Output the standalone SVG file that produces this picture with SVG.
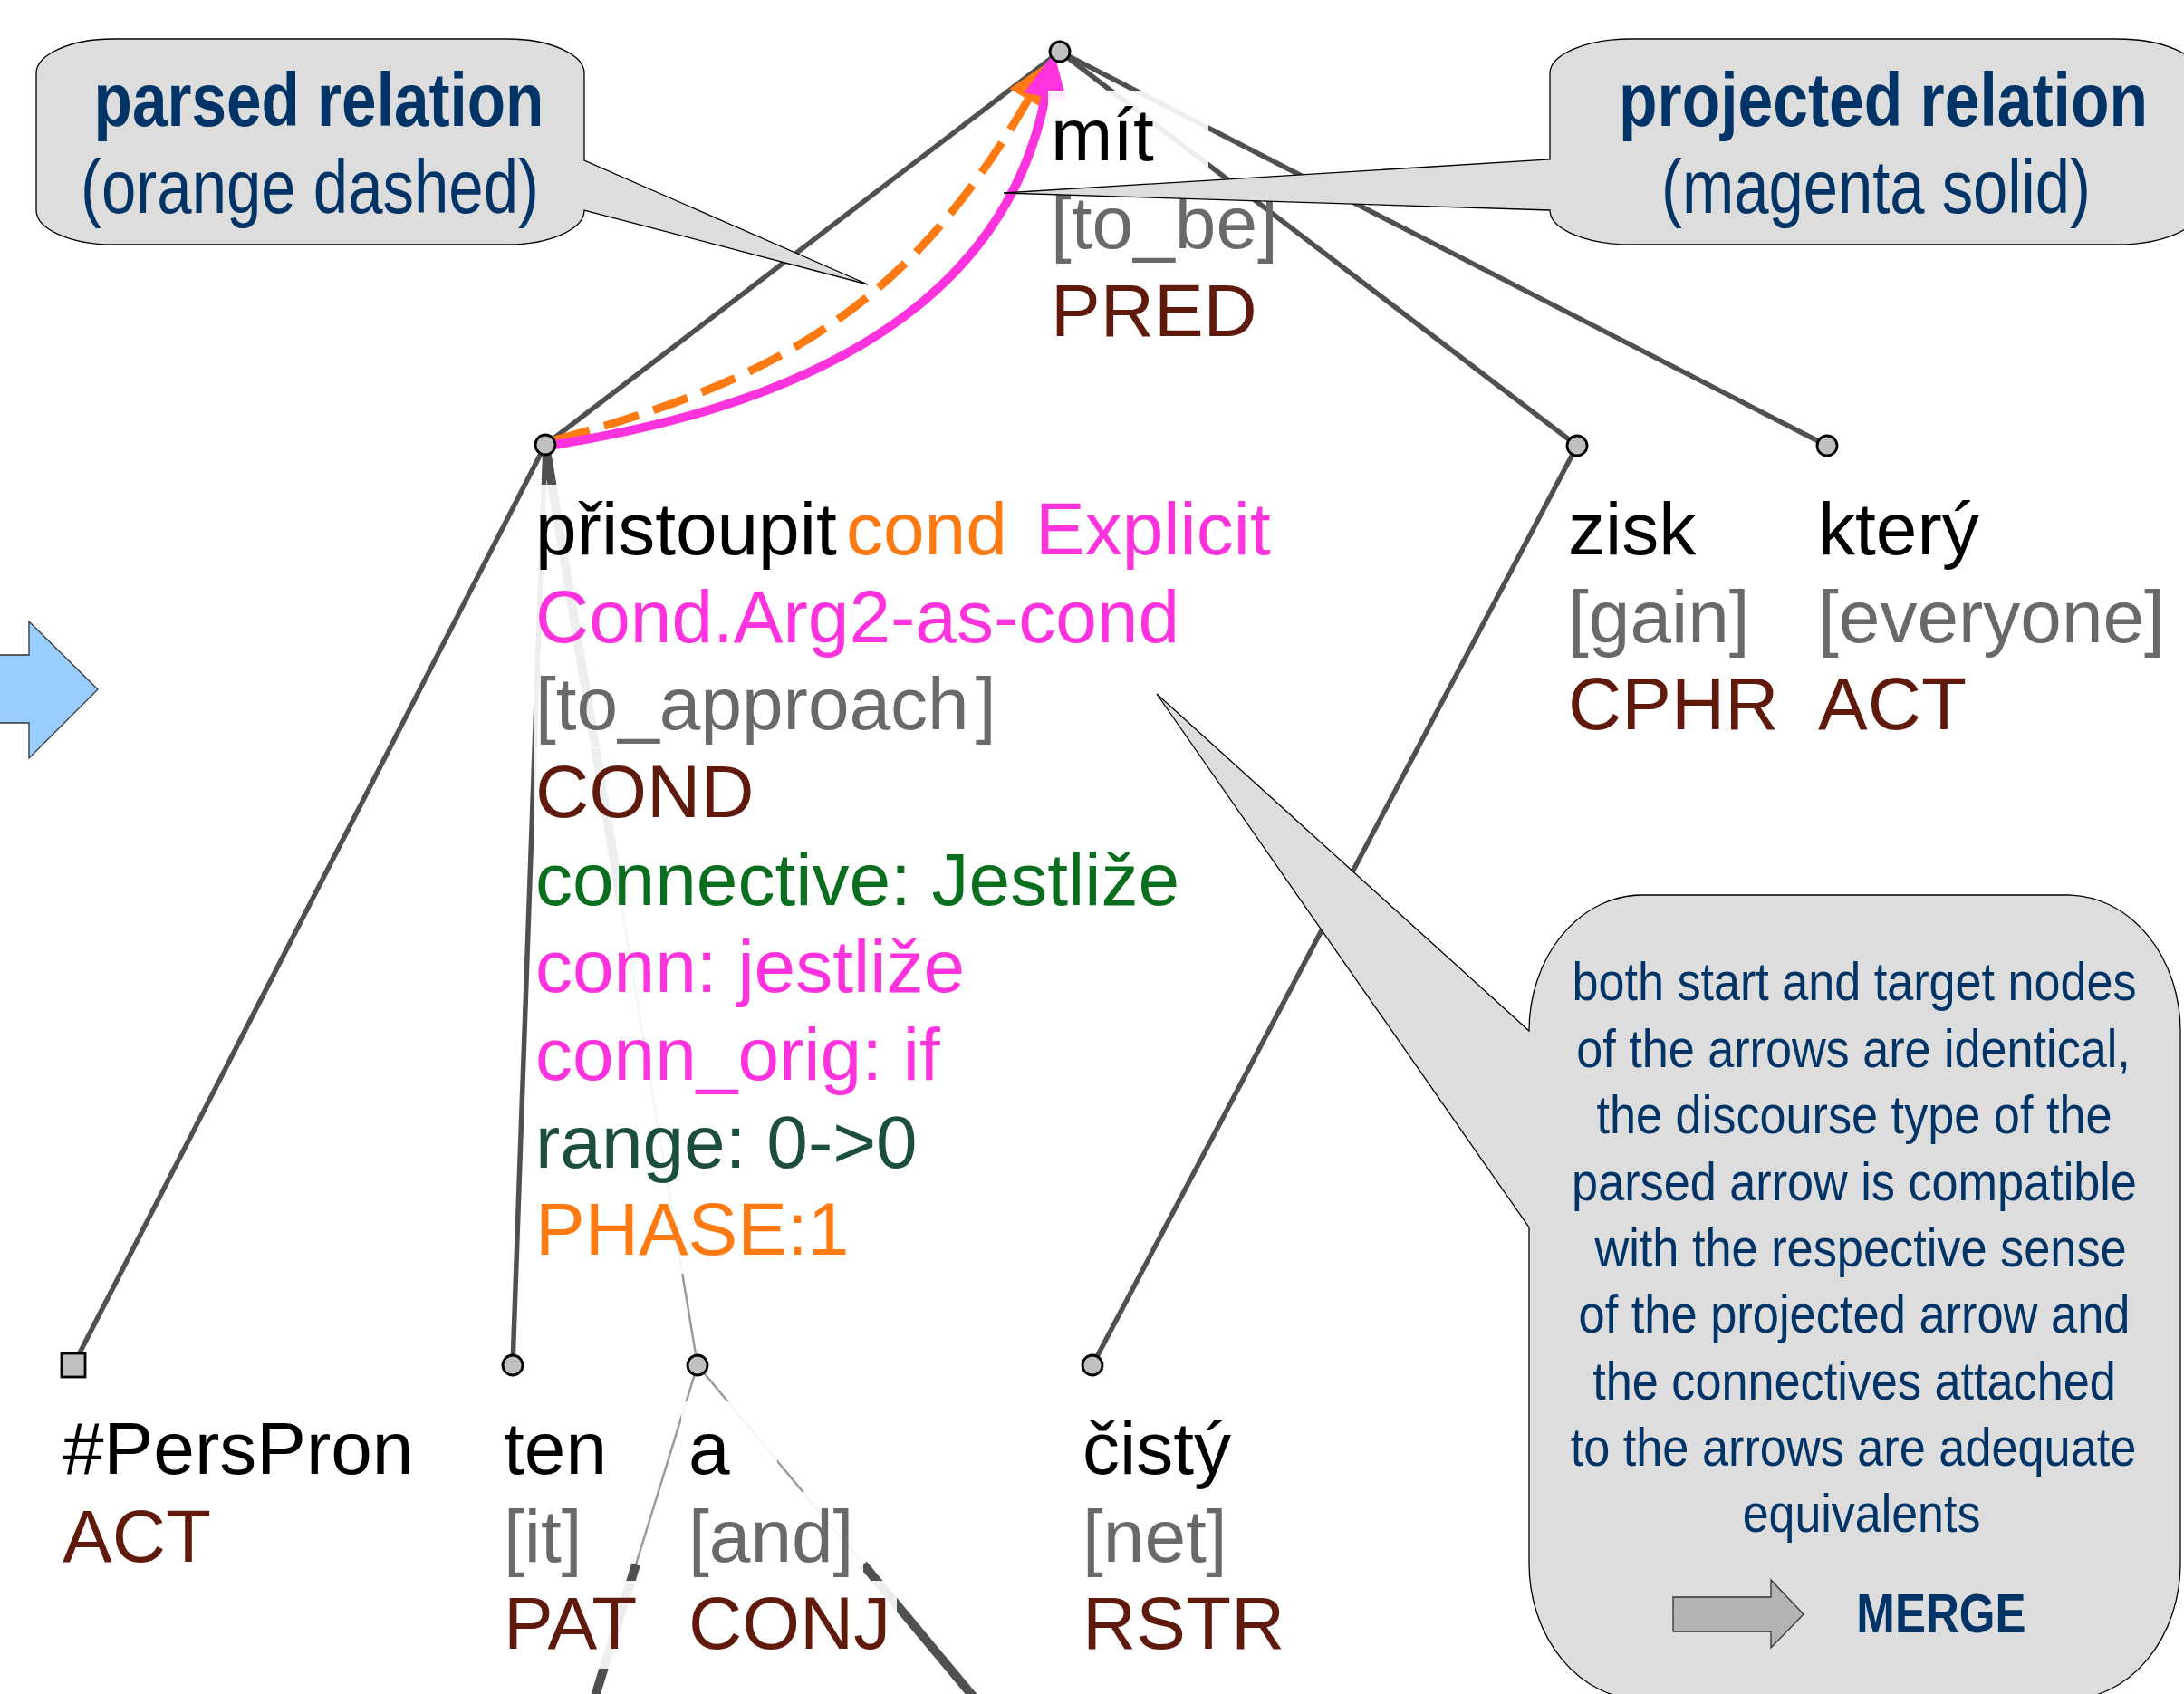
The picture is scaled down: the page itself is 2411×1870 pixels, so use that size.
<svg xmlns="http://www.w3.org/2000/svg" width="2411" height="1870" viewBox="0 0 2411 1870">
  <defs>
    <style>
      .edge{stroke:#505050;stroke-width:5.5;fill:none}
      .edge-co{stroke:#505050;stroke-width:10;fill:none}
      .edge-thin{stroke:#9a9a9a;stroke-width:2.5;fill:none}
      .nd{fill:#c0c0c0;stroke:#000;stroke-width:2.8}
      .bg{fill:#fff;fill-opacity:0.9}
      .t{font-family:"Liberation Sans",Arial,sans-serif;font-size:82px}
      .lem{fill:#000}
      .gl{fill:#696969}
      .fn{fill:#601a0b}
      .or{fill:#ff7a12}
      .mg{fill:#ff33dd}
      .gr{fill:#0a6e1f}
      .rg{fill:#1b4e3c}
      .call{fill:#dddddd;stroke:#000;stroke-width:1.3}
      .ct{font-family:"Liberation Sans",Arial,sans-serif;fill:#003366;text-anchor:middle}
      .big{font-size:84px}
      .small{font-size:60px}
    </style>
    <marker id="headMag" markerUnits="userSpaceOnUse" markerWidth="54" markerHeight="52" refX="0" refY="24" orient="auto" overflow="visible">
      <path d="M0,0 L50,24 L0,48 Z" fill="#ff33dd"/>
    </marker>
    <marker id="headOr" markerUnits="userSpaceOnUse" markerWidth="54" markerHeight="52" refX="0" refY="24" orient="auto" overflow="visible">
      <path d="M0,0 L50,24 L0,48 Z" fill="#ff7a12"/>
    </marker>
  </defs>

  <rect width="2411" height="1870" fill="#fff"/>

  <!-- tree edges and discourse arrows -->
  <g id="connectors">
    <line class="edge" x1="1170" y1="57" x2="602" y2="491"/>
    <line class="edge" x1="1170" y1="57" x2="1741" y2="492"/>
    <line class="edge" x1="1170" y1="57" x2="2017" y2="492"/>
    <line class="edge" x1="602" y1="491" x2="81" y2="1507"/>
    <line class="edge" x1="602" y1="491" x2="566" y2="1507"/>
    <line class="edge-co" x1="602" y1="491" x2="686" y2="999"/>
    <line class="edge-thin" x1="686" y1="999" x2="770" y2="1507"/>
    <line class="edge" x1="1741" y1="492" x2="1206" y2="1507"/>
    <line class="edge-thin" x1="770" y1="1507" x2="702" y2="1727"/>
    <line class="edge-co" x1="702" y1="1727" x2="634" y2="1947"/>
    <line class="edge-thin" x1="770" y1="1507" x2="953" y2="1727"/>
    <line class="edge-co" x1="953" y1="1727" x2="1136" y2="1947"/>
    <!-- parsed relation (orange dashed) and projected relation (magenta solid) -->
    <path d="M612,486 C863,418 1004,336 1135,110" fill="none" stroke="#ff7a12" stroke-width="9" stroke-dasharray="40 17" marker-end="url(#headOr)"/>
    <path d="M612,491 C902,445 1110,330 1154,107" fill="none" stroke="#ff33dd" stroke-width="10" marker-end="url(#headMag)"/>
  </g>

  <g id="node-mit">
    <circle class="nd" cx="1170" cy="57" r="11"/>
    <rect class="bg" x="1157" y="100" width="177" height="97"/>
    <rect class="bg" x="1157" y="197" width="188" height="97"/>
    <rect class="bg" x="1157" y="294" width="243" height="97"/>
    <text class="t lem" x="1160" y="177">mít</text>
    <text class="t gl" x="1160" y="274">[to_be]</text>
    <text class="t fn" x="1160" y="371">PRED</text>
  </g>

  <g id="node-pristoupit">
    <circle class="nd" cx="602" cy="491" r="11"/>
    <rect class="bg" x="589" y="535" width="871" height="97"/>
    <rect class="bg" x="589" y="632" width="735" height="97"/>
    <rect class="bg" x="589" y="729" width="531" height="97"/>
    <rect class="bg" x="589" y="825" width="261" height="97"/>
    <rect class="bg" x="589" y="922" width="735" height="97"/>
    <rect class="bg" x="589" y="1019" width="496" height="97"/>
    <rect class="bg" x="589" y="1115" width="469" height="97"/>
    <rect class="bg" x="589" y="1212" width="443" height="97"/>
    <rect class="bg" x="589" y="1309" width="366" height="97"/>
    <text class="t" y="612"><tspan class="lem" x="591">přistoupit</tspan><tspan class="or" x="934">cond</tspan><tspan class="mg" x="1143">Explicit</tspan></text>
    <text class="t mg" x="591" y="709">Cond.Arg2-as-cond</text>
    <text class="t gl" x="591" y="805">[to_approach<tspan dx="7">]</tspan></text>
    <text class="t fn" x="591" y="902">COND</text>
    <text class="t gr" x="591" y="999">connective: Jestliže</text>
    <text class="t mg" x="591" y="1095">conn: jestliže</text>
    <text class="t mg" x="591" y="1192">conn_orig: if</text>
    <text class="t rg" x="591" y="1289">range: 0-&gt;0</text>
    <text class="t or" x="591" y="1385">PHASE:1</text>
  </g>

  <g id="node-zisk">
    <circle class="nd" cx="1741" cy="492" r="11"/>
    <rect class="bg" x="1728" y="535" width="160" height="97"/>
    <rect class="bg" x="1728" y="632" width="222" height="97"/>
    <rect class="bg" x="1728" y="729" width="232" height="97"/>
    <text class="t lem" x="1731" y="612">zisk</text>
    <text class="t gl" x="1731" y="709">[gain]</text>
    <text class="t fn" x="1731" y="805">CPHR</text>
  </g>

  <g id="node-ktery">
    <circle class="nd" cx="2017" cy="492" r="11"/>
    <rect class="bg" x="2004" y="535" width="220" height="97"/>
    <rect class="bg" x="2004" y="632" width="407" height="97"/>
    <rect class="bg" x="2004" y="729" width="190" height="97"/>
    <text class="t lem" x="2007" y="612">který</text>
    <text class="t gl" x="2007" y="709">[everyone]</text>
    <text class="t fn" x="2007" y="805">ACT</text>
  </g>

  <g id="node-perspron">
    <rect class="nd" x="68" y="1494" width="26" height="26"/>
    <rect class="bg" x="66" y="1550" width="410" height="97"/>
    <rect class="bg" x="66" y="1647" width="200" height="97"/>
    <text class="t lem" x="69" y="1627">#PersPron</text>
    <text class="t fn" x="69" y="1724">ACT</text>
  </g>

  <g id="node-ten">
    <circle class="nd" cx="566" cy="1507" r="11"/>
    <rect class="bg" x="554" y="1550" width="126" height="97"/>
    <rect class="bg" x="554" y="1647" width="100" height="97"/>
    <rect class="bg" x="554" y="1745" width="151" height="97"/>
    <text class="t lem" x="556" y="1627">ten</text>
    <text class="t gl" x="556" y="1724">[it]</text>
    <text class="t fn" x="556" y="1820">PAT</text>
  </g>

  <g id="node-a">
    <circle class="nd" cx="770" cy="1507" r="11"/>
    <rect class="bg" x="752" y="1547" width="106" height="98"/>
    <rect class="bg" x="752" y="1647" width="201" height="96"/>
    <rect class="bg" x="752" y="1745" width="238" height="97"/>
    <text class="t lem" x="760" y="1627">a</text>
    <text class="t gl" x="760" y="1724">[and]</text>
    <text class="t fn" x="760" y="1820">CONJ</text>
  </g>

  <g id="node-cisty">
    <circle class="nd" cx="1206" cy="1507" r="11"/>
    <rect class="bg" x="1192" y="1550" width="140" height="97"/>
    <rect class="bg" x="1192" y="1647" width="180" height="97"/>
    <rect class="bg" x="1192" y="1745" width="240" height="97"/>
    <text class="t lem" x="1195" y="1627">čistý</text>
    <text class="t gl" x="1195" y="1724">[net]</text>
    <text class="t fn" x="1195" y="1820">RSTR</text>
  </g>

  <!-- step arrow on the left margin -->
  <g id="arrow-left">
    <polygon points="-2,723 32,723 32,686 108,761 32,837 32,798 -2,798" fill="#99ccff" stroke="#333" stroke-width="1.3"/>
  </g>

  <!-- callouts; condensed lettering is made by a horizontal scale -->
  <g id="callout-parsed">
    <path class="call" d="M125,43 H560 A85 38 0 0 1 645 81 V177 L958 314 L645 232 A85 38 0 0 1 560 270 H125 A85 38 0 0 1 40 232 V81 A85 38 0 0 1 125 43 Z"/>
    <text class="ct big" transform="translate(352,139) scale(0.82,1)" font-weight="bold" textLength="606" lengthAdjust="spacingAndGlyphs">parsed relation</text>
    <text class="ct big" transform="translate(342,235) scale(0.82,1)" textLength="617" lengthAdjust="spacingAndGlyphs">(orange dashed)</text>
  </g>

  <g id="callout-projected">
    <path class="call" d="M1801,43 H2337 A90 38 0 0 1 2427 81 V232 A90 38 0 0 1 2337 270 H1801 A90 38 0 0 1 1711 232 L1108 213 L1711 176 V81 A90 38 0 0 1 1801 43 Z"/>
    <text class="ct big" transform="translate(2079,139) scale(0.82,1)" font-weight="bold" textLength="712" lengthAdjust="spacingAndGlyphs">projected relation</text>
    <text class="ct big" transform="translate(2071,235) scale(0.82,1)" textLength="578" lengthAdjust="spacingAndGlyphs">(magenta solid)</text>
  </g>

  <g id="callout-merge">
    <path class="call" d="M1813,988 H2282 A125 150 0 0 1 2407 1138 V1726 A125 150 0 0 1 2282 1876 H1813 A125 150 0 0 1 1688 1726 V1355 L1277 766 L1688 1138 A125 150 0 0 1 1813 988 Z"/>
    <text class="ct small" transform="translate(2047,1104) scale(0.87,1)" textLength="716" lengthAdjust="spacingAndGlyphs">both start and target nodes</text>
    <text class="ct small" transform="translate(2046,1178) scale(0.87,1)" textLength="703" lengthAdjust="spacingAndGlyphs">of the arrows are identical,</text>
    <text class="ct small" transform="translate(2047,1251) scale(0.87,1)" textLength="654" lengthAdjust="spacingAndGlyphs">the discourse type of the</text>
    <text class="ct small" transform="translate(2047,1325) scale(0.87,1)" textLength="717" lengthAdjust="spacingAndGlyphs">parsed arrow is compatible</text>
    <text class="ct small" transform="translate(2054,1398) scale(0.87,1)" textLength="675" lengthAdjust="spacingAndGlyphs">with the respective sense</text>
    <text class="ct small" transform="translate(2047,1471) scale(0.87,1)" textLength="700" lengthAdjust="spacingAndGlyphs">of the projected arrow and</text>
    <text class="ct small" transform="translate(2047,1545) scale(0.87,1)" textLength="664" lengthAdjust="spacingAndGlyphs">the connectives attached</text>
    <text class="ct small" transform="translate(2046,1618) scale(0.87,1)" textLength="718" lengthAdjust="spacingAndGlyphs">to the arrows are adequate</text>
    <text class="ct small" transform="translate(2055,1691) scale(0.87,1)" textLength="302" lengthAdjust="spacingAndGlyphs">equivalents</text>
    <polygon points="1847,1763 1955,1763 1955,1744 1991,1782 1955,1819 1955,1801 1847,1801" fill="#b3b3b3" stroke="#333" stroke-width="1.3"/>
    <text class="ct" transform="translate(2143,1802) scale(0.836,1)" font-size="61" font-weight="bold" textLength="224" lengthAdjust="spacingAndGlyphs">MERGE</text>
  </g>
</svg>
